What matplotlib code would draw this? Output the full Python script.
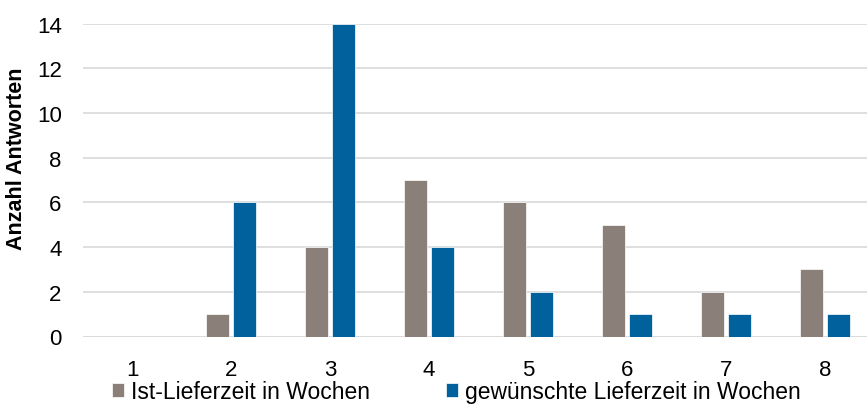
import matplotlib
matplotlib.use("Agg")
import matplotlib.pyplot as plt
import numpy as np

# Lieferzeit-Umfrage: Ist vs. gewuenscht
weeks = ["1", "2", "3", "4", "5", "6", "7", "8"]
ist_values = [0, 1, 4, 7, 6, 5, 2, 3]
wunsch_values = [0, 6, 14, 4, 2, 1, 1, 1]
y_ticks = [0, 2, 4, 6, 8, 10, 12, 14]

plt.rcParams["font.family"] = ["Liberation Sans", "DejaVu Sans"]

fig = plt.figure(figsize=(8.67, 4.06), dpi=100)
# axes runs a little past the right border, like the original crop
ax = fig.add_axes([82.5 / 867, 1 - 337.5 / 406, 792 / 867, 313 / 406])

x = np.arange(len(weeks))
w = 0.235
ax.bar(x - 0.14, ist_values, w, color="#8B7F7A", edgecolor="white", linewidth=0.5,
       label="Ist-Lieferzeit in Wochen", zorder=3)
ax.bar(x + 0.14, wunsch_values, w, color="#00619C", edgecolor="white", linewidth=0.5,
       label="gewünschte Lieferzeit in Wochen", zorder=3)

ax.set_xlim(-0.5, len(weeks) - 0.5)
ax.set_ylim(0, 14)
ax.set_yticks(y_ticks)
ax.set_xticks(x)
ax.set_xticklabels(weeks)
ax.tick_params(axis="both", length=0, labelsize=16, colors="black")
ax.tick_params(axis="x", pad=16)
ax.tick_params(axis="y", pad=15)
ax.yaxis.grid(True, color="#D9D9D9", linewidth=1.2, zorder=0)
ax.set_axisbelow(True)
for s in ax.spines.values():
    s.set_visible(False)
ax.axhline(0, color="#D9D9D9", linewidth=1.2, zorder=1)

ax.set_ylabel("Anzahl Antworten", fontsize=15.5, fontweight="bold")
ax.yaxis.set_label_coords(-0.070, 0.57)

fig.legend(loc="lower left", bbox_to_anchor=(91 / 867, -0.047), ncol=2, frameon=False,
           fontsize=16.5, handlelength=0.55, handleheight=0.55, handletextpad=0.3,
           columnspacing=3.3)

fig.savefig("out.png", dpi=100)
